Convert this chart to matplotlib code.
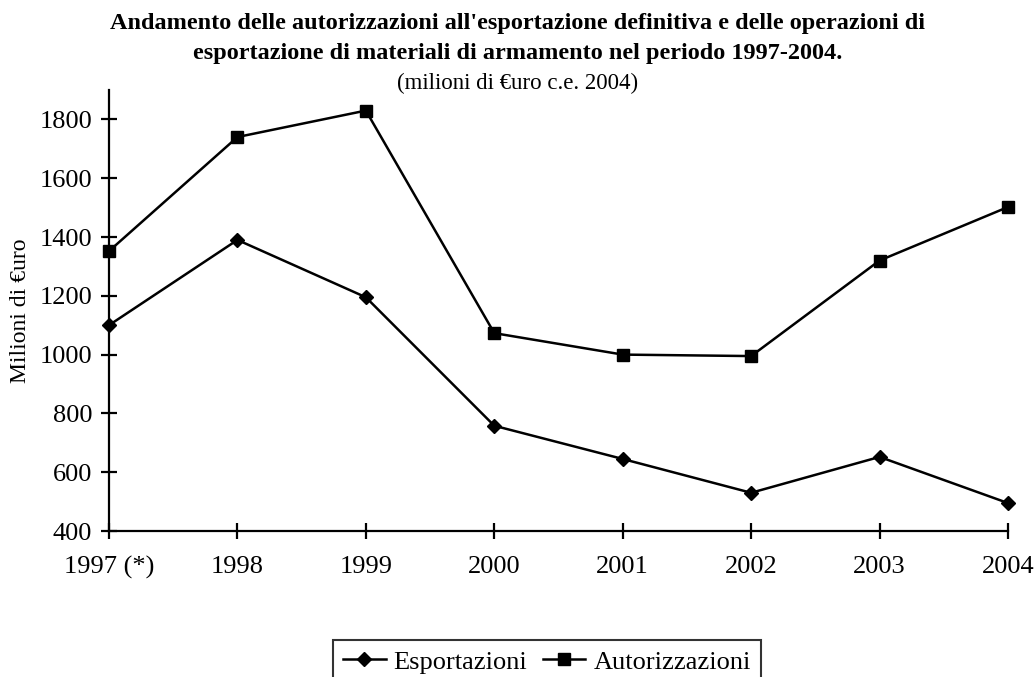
import matplotlib.pyplot as plt
import numpy as np

# dati (milioni di euro)
anni = ["1997 (*)", "1998", "1999", "2000", "2001", "2002", "2003", "2004"]
esportazioni = [1100, 1390, 1195, 758, 645, 530, 652, 495]
autorizzazioni = [1352, 1740, 1830, 1073, 1000, 995, 1320, 1502]

plt.rcParams['font.family'] = ['Liberation Serif', 'DejaVu Serif']

fig = plt.figure(figsize=(10.36, 6.77), dpi=100)
ax = fig.add_axes([109 / 1036, 1 - 531 / 677, (1008 - 109) / 1036, (531 - 90) / 677])

x = np.arange(len(anni))
ax.plot(x, esportazioni, color="black", linewidth=1.8, marker="D", markersize=7,
        label="Esportazioni", clip_on=False, zorder=3)
ax.plot(x, autorizzazioni, color="black", linewidth=1.8, marker="s", markersize=9,
        label="Autorizzazioni", clip_on=False, zorder=3)

ax.set_xlim(0, len(anni) - 1)
ax.set_ylim(400, 1900)
ax.set_yticks(np.arange(400, 1801, 200))
ax.set_xticks(x)
ax.set_xticklabels(anni)

# solo assi sinistro e inferiore
ax.spines["top"].set_visible(False)
ax.spines["right"].set_visible(False)
ax.spines["left"].set_linewidth(1.6)
ax.spines["bottom"].set_linewidth(1.6)
ax.tick_params(direction="inout", length=12, width=1.6, labelsize=19)
ax.tick_params(axis="x", pad=12)
ax.tick_params(axis="y", pad=6)

ax.set_ylabel("Milioni di €uro", fontsize=17, labelpad=6)

fig.text(0.5, 1 - 24 / 677,
         "Andamento delle autorizzazioni all'esportazione definitiva e delle operazioni di",
         ha="center", va="center", fontsize=17.5, fontweight="bold")
fig.text(0.5, 1 - 54 / 677,
         "esportazione di materiali di armamento nel periodo 1997-2004.",
         ha="center", va="center", fontsize=17.5, fontweight="bold")
fig.text(0.5, 1 - 83 / 677, "(milioni di €uro c.e. 2004)",
         ha="center", va="center", fontsize=16.5)

leg = fig.legend(loc="lower center", bbox_to_anchor=(547 / 1036, -0.03), ncol=2,
                 fontsize=19, frameon=True, fancybox=False, edgecolor="black",
                 handlelength=1.6, handletextpad=0.3, columnspacing=0.6,
                 borderpad=0.4)
leg.get_frame().set_linewidth(1.5)

fig.savefig("out.png", dpi=100)
